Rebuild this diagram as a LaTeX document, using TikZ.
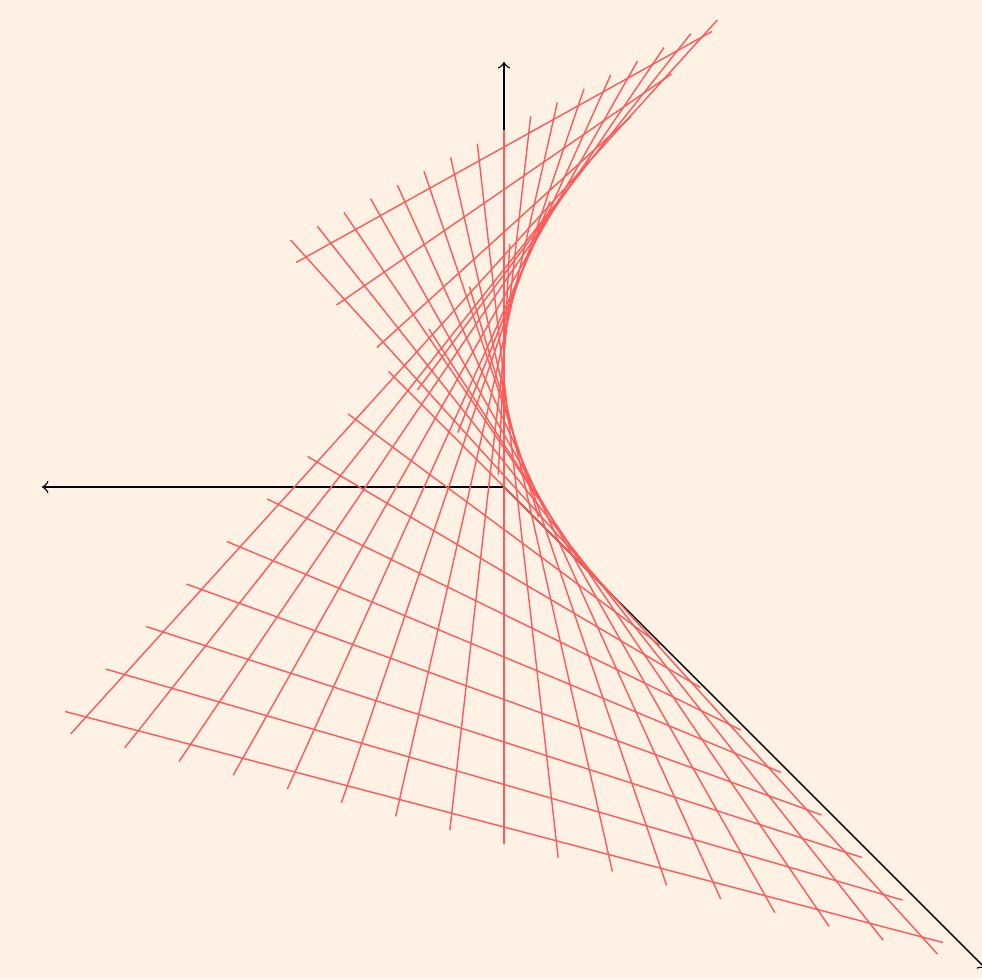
\documentclass[tikz,border=0pt]{standalone}

\begin{document}
\begin{tikzpicture}[
    x={(-0.77cm,0cm)}, y={(0.55cm,-0.55cm)}, z={(0cm,1.7cm)},
    axisline/.style={->, black},
    ruling/.style={red!65}
]
    \fill [orange!10] (-5.04cm,-4.92cm) rectangle (4.78cm,4.87cm);
    \useasboundingbox (-5.04cm,-4.92cm) rectangle (4.78cm,4.87cm);

    \coordinate (O) at (0,0,0);
    \coordinate (xend) at (6,0,0);
    \coordinate (yend) at (0,8.75,0);
    \coordinate (zend) at (0,0,2.5);

    \draw [axisline] (O) -- (xend);
    \draw [axisline] (O) -- (yend);
    \draw [axisline] (O) -- (zend);

    % the two families of rulings of x = y z
    \foreach \t in {-2,-1.75,...,2} {
        \draw [ruling] ({-2.1*\t},\t,-2.1) -- ({2.1*\t},\t,2.1);
        \draw [ruling] ({-2.1*\t},-2.1,\t) -- ({2.1*\t},2.1,\t);
    }
\end{tikzpicture}
\end{document}
